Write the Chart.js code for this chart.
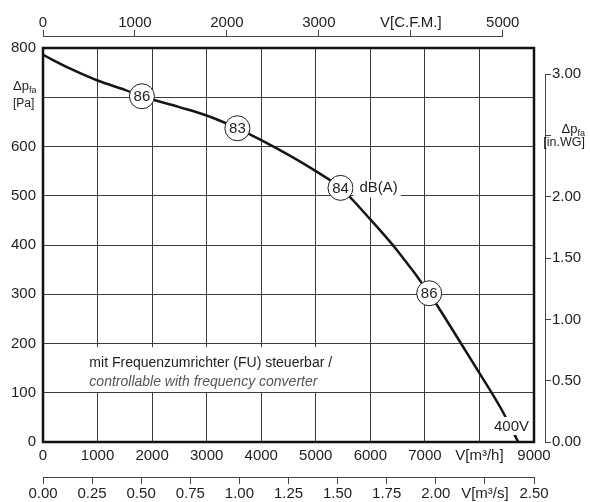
<!DOCTYPE html>
<html>
<head>
<meta charset="utf-8">
<script src="https://cdn.jsdelivr.net/npm/chart.js@4.4.1/dist/chart.umd.min.js"></script>
<style>
    html, body { margin: 0; padding: 0; background: #fff; }
</style>
</head>
<body>
<canvas id="graficoCurva" width="590" height="502"></canvas>
<script>
// curva del ventilador (m3/h -> Pa)
const caudal = [0, 500, 1000, 1500, 1813, 2500, 3000, 3563, 4000, 4500, 5000, 5453, 6000, 6500, 7079, 7500, 8000, 8400, 8712];
const presion = [786, 758, 734, 715, 702, 680, 663, 637, 613, 583, 550, 516, 452, 388, 302, 229, 140, 67, 0];

// puntos de ruido dB(A)
const ruidoCaudal = [1813, 3563, 5453, 7079];
const ruidoPresion = [702, 637, 516, 302];
const ruidoValor = ['86', '83', '84', '86'];

// ticks de los ejes
const ticksM3h = [0, 1000, 2000, 3000, 4000, 5000, 6000, 7000, 8000, 9000];
const ticksPa = [0, 100, 200, 300, 400, 500, 600, 700, 800];
const ticksCfm = [0, 1000, 2000, 3000, 4000, 5000];
const ticksM3s = [0, 0.25, 0.5, 0.75, 1, 1.25, 1.5, 1.75, 2, 2.25, 2.5];
const ticksInWG = [0, 0.5, 1, 1.5, 2, 2.5, 3];

const fam = "'Liberation Sans', Arial, sans-serif";
const colTexto = '#1e1e1e';
const fuente = { family: fam, size: 15 };

function fijarTicks(lista) {
    return function (scale) {
        scale.ticks = lista.map(v => ({ value: v }));
    };
}

function linea(ctx, x1, y1, x2, y2) {
    ctx.beginPath();
    ctx.moveTo(x1, y1);
    ctx.lineTo(x2, y2);
    ctx.stroke();
}

function caja(ctx, x1, y1, x2, y2) {
    ctx.fillStyle = '#fff';
    ctx.fillRect(x1, y1, x2 - x1, y2 - y1);
}

const extras = {
    id: 'extras',
    afterDatasetsDraw(chart) {
        const ctx = chart.ctx;
        const a = chart.chartArea;
        const sx = chart.scales.x, sy = chart.scales.y;
        const sc = chart.scales.xc, ss = chart.scales.xs, sw = chart.scales.yw;
        ctx.save();

        // lineas de los ejes secundarios
        ctx.strokeStyle = '#444';
        ctx.lineWidth = 1;
        linea(ctx, sc.getPixelForValue(0), sc.bottom - 0.5, sc.getPixelForValue(5000), sc.bottom - 0.5);
        linea(ctx, ss.getPixelForValue(0), ss.top + 0.5, ss.getPixelForValue(2.5), ss.top + 0.5);
        linea(ctx, sw.left + 0.5, sw.getPixelForValue(0), sw.left + 0.5, sw.getPixelForValue(3));

        // texto de nota
        ctx.textBaseline = 'middle';
        ctx.textAlign = 'left';
        const t1 = 'mit Frequenzumrichter (FU) steuerbar /';
        const t2 = 'controllable with frequency converter';
        const nx = sx.getPixelForValue(850);
        const ny1 = sy.getPixelForValue(160), ny2 = sy.getPixelForValue(122);
        ctx.font = '14px ' + fam;
        const w1 = ctx.measureText(t1).width;
        ctx.font = 'italic 14px ' + fam;
        const w2 = ctx.measureText(t2).width;
        caja(ctx, nx - 5, ny1 - 16, nx + Math.max(w1, w2) + 6, ny2 + 10);
        ctx.fillStyle = colTexto;
        ctx.font = '14px ' + fam;
        ctx.fillText(t1, nx, ny1);
        ctx.fillStyle = '#555';
        ctx.font = 'italic 14px ' + fam;
        ctx.fillText(t2, nx, ny2);

        // dB(A)
        ctx.font = '15px ' + fam;
        const px = sx.getPixelForValue(ruidoCaudal[2]) + 19;
        const py = sy.getPixelForValue(ruidoPresion[2]);
        const wd = ctx.measureText('dB(A)').width;
        caja(ctx, px - 6, py - 8, px + wd + 3, py + 9.5);
        ctx.fillStyle = colTexto;
        ctx.fillText('dB(A)', px, py);

        // 400V
        const wv = ctx.measureText('400V').width;
        const vx = a.right - 5 - wv, vy = a.bottom - 15;
        caja(ctx, vx - 2, vy - 10, vx + wv + 2, vy + 8);
        ctx.fillStyle = colTexto;
        ctx.fillText('400V', vx, vy);

        // recuadro del grafico
        ctx.strokeStyle = '#111';
        ctx.lineWidth = 2.5;
        ctx.strokeRect(a.left, a.top, a.right - a.left, a.bottom - a.top);

        // valores dentro de los circulos
        ctx.textAlign = 'center';
        ctx.fillStyle = colTexto;
        ctx.font = '15px ' + fam;
        for (let i = 0; i < ruidoValor.length; i++) {
            ctx.fillText(ruidoValor[i], sx.getPixelForValue(ruidoCaudal[i]), sy.getPixelForValue(ruidoPresion[i]) + 0.5);
        }

        // titulos de los ejes de presion
        const yl = sy.getPixelForValue(700);
        ctx.textAlign = 'left';
        ctx.font = '13px ' + fam;
        ctx.fillText('\u0394p', 13, yl - 10.5);
        const wdp = ctx.measureText('\u0394p').width;
        ctx.font = '9px ' + fam;
        ctx.fillText('fa', 13 + wdp, yl - 6.5);
        ctx.font = '12px ' + fam;
        ctx.fillText('[Pa]', 13, yl + 6);

        const yr = sw.getPixelForValue(2.5);
        ctx.textAlign = 'right';
        ctx.font = '9px ' + fam;
        const wfa = ctx.measureText('fa').width;
        ctx.fillText('fa', 585, yr - 2);
        ctx.font = '13px ' + fam;
        ctx.fillText('\u0394p', 585 - wfa, yr - 6);
        ctx.font = '12.5px ' + fam;
        ctx.fillText('[in.WG]', 585, yr + 7);

        ctx.restore();
    }
};

const ctx = document.getElementById('graficoCurva');

new Chart(ctx, {
    type: 'scatter',
    data: {
        datasets: [{
            data: caudal.map((v, i) => ({ x: v, y: presion[i] })),
            showLine: true,
            borderColor: '#151515',
            borderWidth: 2.5,
            pointRadius: 0,
            cubicInterpolationMode: 'monotone',
            fill: false,
            order: 2
        }, {
            data: ruidoCaudal.map((v, i) => ({ x: v, y: ruidoPresion[i] })),
            showLine: false,
            pointRadius: 12.5,
            pointBackgroundColor: '#fff',
            pointBorderColor: '#1e1e1e',
            pointBorderWidth: 1,
            order: 1
        }]
    },
    options: {
        responsive: false,
        animation: false,
        layout: { padding: 0 },
        plugins: {
            legend: { display: false },
            tooltip: { enabled: false }
        },
        scales: {
            x: {
                type: 'linear', position: 'bottom', weight: 0,
                min: 0, max: 9000,
                afterBuildTicks: fijarTicks(ticksM3h),
                afterFit: s => { s.height = 35; },
                ticks: {
                    font: fuente, color: colTexto, padding: 5, maxRotation: 0, autoSkip: false,
                    callback: v => v === 8000 ? 'V[m\u00b3/h]' : String(v)
                },
                grid: { color: '#3c3c3c', lineWidth: 1, drawTicks: false },
                border: { display: false }
            },
            xs: {
                type: 'linear', position: 'bottom', weight: 1,
                min: 0, max: 2.5,
                afterBuildTicks: fijarTicks(ticksM3s),
                afterFit: s => { s.height = 25; },
                ticks: {
                    font: fuente, color: colTexto, padding: 1, maxRotation: 0, autoSkip: false,
                    callback: v => v === 2.25 ? 'V[m\u00b3/s]' : v.toFixed(2)
                },
                grid: { drawOnChartArea: false, tickLength: 7, color: '#444' },
                border: { display: false }
            },
            xTop: {
                type: 'linear', position: 'top', weight: 0, min: 0, max: 1,
                afterFit: s => { s.height = 11; },
                ticks: { display: false },
                grid: { display: false },
                border: { display: false }
            },
            xc: {
                type: 'linear', position: 'top', weight: 1,
                min: 0, max: 5340,
                afterBuildTicks: fijarTicks(ticksCfm),
                afterFit: s => { s.height = 37; },
                ticks: {
                    font: fuente, color: colTexto, padding: -2, maxRotation: 0, autoSkip: false,
                    callback: v => v === 4000 ? 'V[C.F.M.]' : String(v)
                },
                grid: { drawOnChartArea: false, tickLength: 7, color: '#444' },
                border: { display: false }
            },
            y: {
                type: 'linear', position: 'left',
                min: 0, max: 800,
                afterBuildTicks: fijarTicks(ticksPa),
                afterFit: s => { s.width = 43; },
                ticks: {
                    font: fuente, color: colTexto, padding: 7, autoSkip: false,
                    callback: v => v === 700 ? '' : String(v)
                },
                grid: { color: '#3c3c3c', lineWidth: 1, drawTicks: false },
                border: { display: false }
            },
            yRight: {
                type: 'linear', position: 'right', weight: 0, min: 0, max: 1,
                afterFit: s => { s.width = 11; },
                ticks: { display: false },
                grid: { display: false },
                border: { display: false }
            },
            yw: {
                type: 'linear', position: 'right', weight: 1,
                min: 0, max: 3.215,
                afterBuildTicks: fijarTicks(ticksInWG),
                afterFit: s => { s.width = 45; },
                ticks: {
                    font: fuente, color: colTexto, padding: 1, autoSkip: false,
                    callback: v => v === 2.5 ? '' : v.toFixed(2)
                },
                grid: { drawOnChartArea: false, tickLength: 6, color: '#444' },
                border: { display: false }
            }
        }
    },
    plugins: [extras]
});
</script>
</body>
</html>
